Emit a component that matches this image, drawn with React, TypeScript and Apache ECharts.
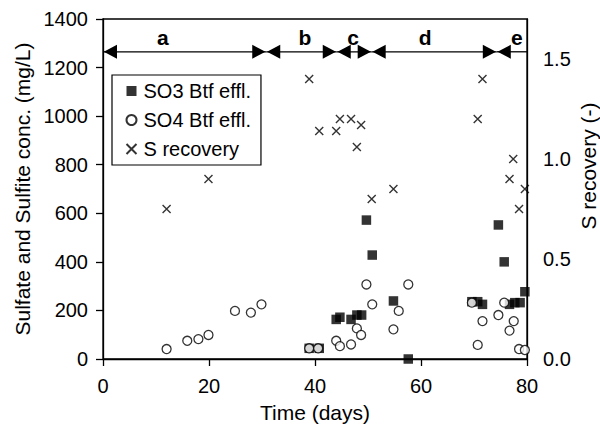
import React, { useEffect, useRef } from "react";
import * as echarts from "echarts";

// ---- data ----
const so3Days = [38.9, 40.8, 44.0, 44.7, 46.8, 47.9, 48.8, 49.7, 50.8, 54.8, 57.6, 69.6, 70.7, 71.6, 74.6, 75.7, 76.7, 77.7, 78.7, 79.6];
const so3Values = [44, 44, 163, 172, 163, 181, 181, 572, 428, 239, 0, 236, 236, 225, 552, 400, 225, 232, 232, 277];

const so4Days = [12.0, 15.9, 18.0, 19.9, 24.9, 27.9, 29.9, 38.9, 40.6, 44.0, 44.7, 46.8, 47.9, 48.7, 49.7, 50.8, 54.8, 55.8, 57.6, 69.6, 70.7, 71.6, 74.6, 75.7, 76.7, 77.5, 78.5, 79.6];
const so4Values = [41, 75, 82, 99, 198, 191, 225, 44, 44, 75, 53, 60, 126, 99, 307, 225, 122, 198, 307, 232, 58, 156, 181, 232, 117, 156, 41, 37];

const sRecDays = [12.0, 19.9, 38.9, 40.8, 44.0, 44.7, 46.8, 47.9, 48.7, 50.7, 54.8, 70.7, 71.6, 76.7, 77.4, 78.5, 79.6];
const sRecValues = [0.75, 0.90, 1.40, 1.14, 1.14, 1.20, 1.20, 1.06, 1.17, 0.80, 0.85, 1.20, 1.40, 0.90, 1.00, 0.75, 0.85];

const phaseNames = ["a", "b", "c", "d", "e"];
const phaseStart = [0, 30.8, 44.1, 50.7, 74.3];
const phaseEnd = [30.8, 44.1, 50.7, 74.3, 80];
const phaseLabelDay = [11.3, 38.1, 47.2, 60.8, 78.1];
const phaseArrowLevel = 1265;

const xTicks = { min: 0, max: 80, interval: 20 };
const yLeftTicks = { min: 0, max: 1400, interval: 200 };
const yRightTicks = { min: 0, max: 1.7, interval: 0.5 };

const FONT = "Liberation Sans, Arial, Helvetica, sans-serif";

export default function App() {
  const ref = useRef<HTMLDivElement>(null);

  useEffect(() => {
    if (!ref.current) return;
    const chart = echarts.init(ref.current, undefined, { renderer: "svg" });

    const crossPath = "path://M0,0L10,10M10,0L0,10";

    const phaseData = phaseNames.map((n, i) => [phaseStart[i], phaseEnd[i], phaseLabelDay[i], i]);

    const option: any = {
      animation: false,
      backgroundColor: "#fff",
      textStyle: { fontFamily: FONT, color: "#000" },
      grid: {
        left: 103,
        right: 73,
        top: 19,
        bottom: 78,
        show: true,
        borderColor: "#000",
        borderWidth: 1.3,
        backgroundColor: "transparent",
      },
      legend: {
        data: ["SO3 Btf effl.", "SO4 Btf effl.", "S recovery"],
        orient: "vertical",
        left: 112,
        top: 75,
        padding: [6, 10, 6, 12],
        itemWidth: 10,
        itemHeight: 10,
        itemGap: 9,
        borderColor: "#000",
        borderWidth: 1.2,
        backgroundColor: "#fff",
        textStyle: { fontFamily: FONT, fontSize: 20, color: "#000", padding: [0, 0, 0, 2] },
      },
      xAxis: {
        type: "value",
        ...xTicks,
        name: "Time (days)",
        nameLocation: "middle",
        nameGap: 43,
        nameTextStyle: { fontFamily: FONT, fontSize: 21, color: "#000" },
        axisLine: { show: true, onZero: false, lineStyle: { color: "#000", width: 1.3 } },
        axisTick: { show: true, inside: false, length: 7, lineStyle: { color: "#000", width: 1.3 } },
        axisLabel: { fontFamily: FONT, fontSize: 20, color: "#000", margin: 17 },
        splitLine: { show: false },
      },
      yAxis: [
        {
          type: "value",
          ...yLeftTicks,
          position: "left",
          name: "Sulfate and Sulfite conc. (mg/L)",
          nameLocation: "middle",
          nameGap: 68,
          nameRotate: 90,
          nameTextStyle: { fontFamily: FONT, fontSize: 21, color: "#000" },
          axisLine: { show: true, onZero: false, lineStyle: { color: "#000", width: 1.3 } },
          axisTick: { show: true, inside: false, length: 7, lineStyle: { color: "#000", width: 1.3 } },
          axisLabel: {
            fontFamily: FONT,
            fontSize: 20,
            color: "#000",
            margin: 15,
            formatter: (v: number) => String(v),
          },
          splitLine: { show: false },
        },
        {
          type: "value",
          ...yRightTicks,
          position: "right",
          axisLine: { show: true, onZero: false, lineStyle: { color: "#000", width: 1.3 } },
          axisTick: { show: false },
          axisLabel: {
            fontFamily: FONT,
            fontSize: 20,
            color: "#000",
            margin: 16,
            formatter: (v: number) =>
              Math.abs(v * 2 - Math.round(v * 2)) < 1e-6 ? v.toFixed(1) : "",
          },
          splitLine: { show: false },
        },
      ],
      graphic: [
        {
          type: "text",
          x: 588,
          y: 166,
          rotation: Math.PI / 2,
          style: {
            text: "S recovery (-)",
            fontFamily: FONT,
            fontSize: 21,
            fill: "#000",
            align: "center",
            verticalAlign: "middle",
          },
        },
      ],
      series: [
        {
          name: "SO3 Btf effl.",
          type: "scatter",
          xAxisIndex: 0,
          yAxisIndex: 0,
          symbol: "rect",
          symbolSize: 9.5,
          itemStyle: { color: "#000" },
          data: so3Days.map((d, i) => [d, so3Values[i]]),
          z: 3,
        },
        {
          name: "SO4 Btf effl.",
          type: "scatter",
          xAxisIndex: 0,
          yAxisIndex: 0,
          symbol: "circle",
          symbolSize: 9,
          itemStyle: { color: "#fff", borderColor: "#000", borderWidth: 1.3 },
          data: so4Days.map((d, i) => [d, so4Values[i]]),
          z: 4,
        },
        {
          name: "S recovery",
          type: "scatter",
          xAxisIndex: 0,
          yAxisIndex: 1,
          symbol: crossPath,
          symbolSize: 8,
          itemStyle: { color: "none", borderColor: "#000", borderWidth: 1.4 },
          data: sRecDays.map((d, i) => [d, sRecValues[i]]),
          z: 5,
        },
        {
          name: "phases",
          type: "custom",
          xAxisIndex: 0,
          yAxisIndex: 0,
          clip: false,
          silent: true,
          data: phaseData,
          z: 6,
          renderItem: (params: any, api: any) => {
            const s = api.value(0);
            const e = api.value(1);
            const l = api.value(2);
            const idx = api.value(3);
            const ps = api.coord([s, phaseArrowLevel]);
            const pe = api.coord([e, phaseArrowLevel]);
            const pl = api.coord([l, phaseArrowLevel]);
            const y = ps[1];
            const children: any[] = [
              {
                type: "line",
                shape: { x1: ps[0], y1: y, x2: pe[0], y2: y },
                style: { stroke: "#000", lineWidth: 1.3 },
              },
              {
                type: "polygon",
                shape: { points: [[ps[0] + 0.8, y], [ps[0] + 14, y - 7], [ps[0] + 14, y + 7]] },
                style: { fill: "#000" },
              },
              {
                type: "text",
                x: pl[0],
                y: y - 14,
                style: {
                  text: phaseNames[idx],
                  fontFamily: FONT,
                  fontSize: 21,
                  fontWeight: "bold",
                  fill: "#000",
                  align: "center",
                  verticalAlign: "middle",
                },
              },
            ];
            if (idx < phaseNames.length - 1) {
              children.push({
                type: "polygon",
                shape: { points: [[pe[0] - 0.8, y], [pe[0] - 14, y - 7], [pe[0] - 14, y + 7]] },
                style: { fill: "#000" },
              });
            }
            return { type: "group", children };
          },
        },
      ],
    };

    chart.setOption(option);
    return () => chart.dispose();
  }, []);

  return (
    <div
      ref={ref}
      style={{ position: "fixed", left: 0, top: 0, width: 600, height: 437, background: "#fff" }}
    />
  );
}
